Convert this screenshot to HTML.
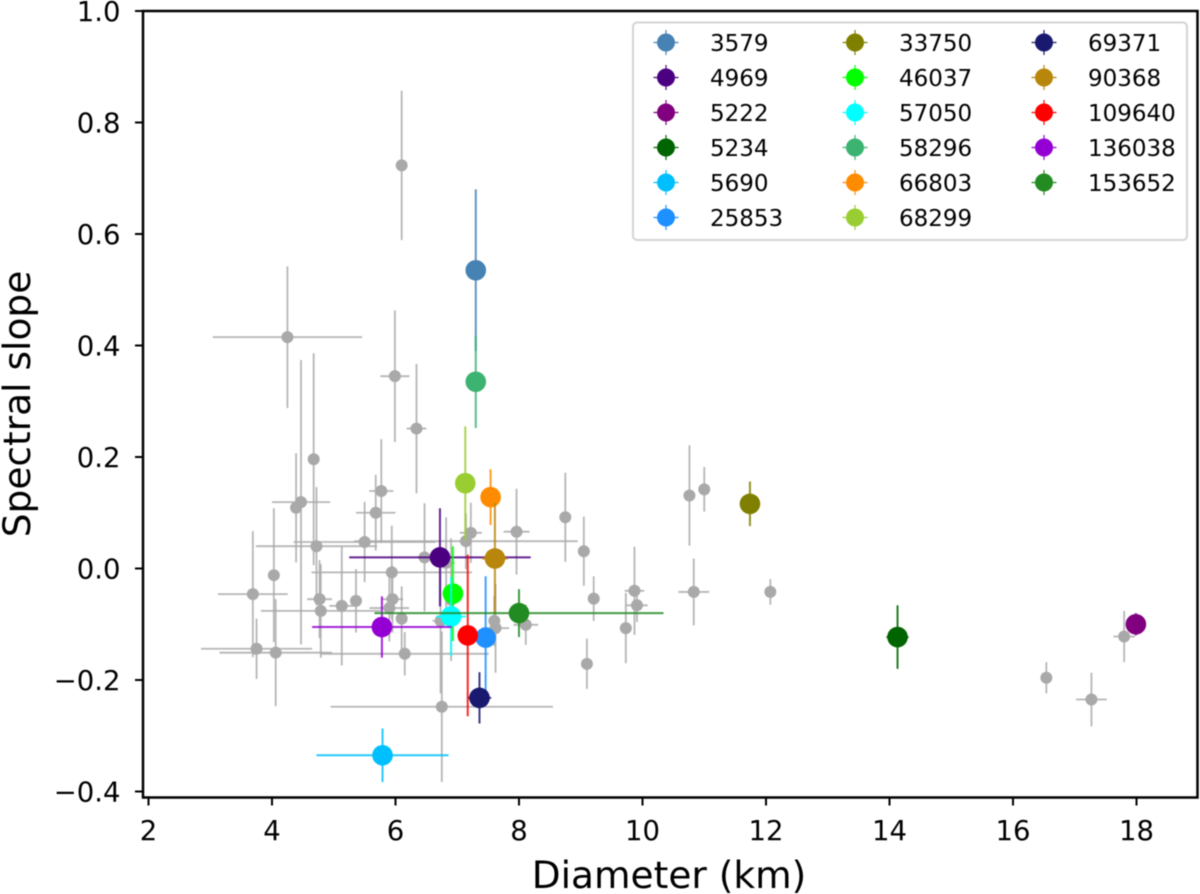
<!DOCTYPE html>
<html lang="en">
<head>
<meta charset="utf-8">
<title>Spectral slope vs diameter</title>
<style>
html,body{margin:0;padding:0;background:#fff;}
svg{display:block;filter:blur(0.4px);}
text{font-family:"DejaVu Sans","Liberation Sans",sans-serif;fill:#000;}
</style>
</head>
<body>
<svg id="chart" xmlns="http://www.w3.org/2000/svg" width="1200" height="894" viewBox="0 0 1200 894">
<rect x="143" y="11" width="1054.5" height="786.5" fill="#fff"/>
<g id="gray-layer"></g>
<g id="color-layer"></g>
<rect x="143" y="11" width="1054.5" height="786.5" fill="none" stroke="#000" stroke-width="2.5"/>
<g id="ticks"></g>
<text x="669" y="888" font-size="37.5" text-anchor="middle">Diameter (km)</text>
<text transform="translate(30,404) rotate(-90)" font-size="37.5" text-anchor="middle">Spectral slope</text>
<g id="legend">
<rect x="633" y="22.5" width="554" height="217.5" rx="4" ry="4" fill="#fff" fill-opacity="0.9" stroke="#d4d4d4" stroke-width="2"/>
</g>
</svg>
<script>
const xTickValues = [2, 4, 6, 8, 10, 12, 14, 16, 18];
const yTickValues = [-0.4, -0.2, 0.0, 0.2, 0.4, 0.6, 0.8, 1.0];
const yTickLabels = ["\u22120.4", "\u22120.2", "0.0", "0.2", "0.4", "0.6", "0.8", "1.0"];

const grayDiameter = [6.1, 4.25, 5.99, 6.34, 4.675, 4.47, 4.39, 5.77, 5.68, 4.72, 5.5, 4.03, 3.69, 5.94, 6.47, 4.77, 4.79, 5.13, 5.36, 5.95, 5.9, 6.1, 6.73, 3.75, 4.06, 6.15, 6.75, 7.22, 7.14, 7.96, 8.75, 9.05, 9.21, 9.87, 9.91, 9.73, 9.1, 10.76, 10.83, 11.0, 12.07, 16.54, 17.27, 17.8, 7.6, 7.62, 8.11, 6.82, 6.9];
const graySlope = [0.723, 0.415, 0.345, 0.251, 0.196, 0.119, 0.109, 0.139, 0.1, 0.04, 0.0475, -0.012, -0.046, -0.007, 0.02, -0.055, -0.076, -0.067, -0.058, -0.055, -0.071, -0.09, -0.094, -0.144, -0.151, -0.153, -0.248, 0.064, 0.049, 0.066, 0.092, 0.031, -0.054, -0.04, -0.066, -0.107, -0.171, 0.131, -0.042, 0.142, -0.042, -0.196, -0.235, -0.122, -0.094, -0.107, -0.101, 0.01, -0.056];
const grayDiameterErr = [0.03, 1.21, 0.235, 0.16, 0.03, 0.47, 0.05, 0.195, 0.32, 0.98, 1.15, 0.03, 0.565, 1.3, 0.12, 0.2, 0.97, 0.2, 0.03, 0.175, 0.32, 0.03, 0.13, 0.9, 0.91, 1.36, 1.8, 0.18, 1.81, 0.21, 0.03, 0.03, 0.03, 0.157, 0.175, 0.03, 0.03, 0.03, 0.25, 0.03, 0.03, 0.03, 0.25, 0.175, 0.03, 0.22, 0.2, 0.14, 0.03];
const graySlopeErr = [0.134, 0.127, 0.118, 0.116, 0.19, 0.255, 0.098, 0.093, 0.068, 0.106, 0.072, 0.12, 0.113, 0.084, 0.097, 0.07, 0.084, 0.107, 0.057, 0.06, 0.06, 0.058, 0.13, 0.054, 0.096, 0.039, 0.135, 0.054, 0.05, 0.077, 0.08, 0.062, 0.04, 0.079, 0.03, 0.063, 0.045, 0.09, 0.06, 0.04, 0.023, 0.028, 0.048, 0.046, 0.045, 0.08, 0.036, 0.082, 0.11];

const asteroidIds = ["3579", "4969", "5222", "5234", "5690", "25853", "33750", "46037", "57050", "58296", "66803", "68299", "69371", "90368", "109640", "136038", "153652"];
const asteroidColors = ["#4682b4", "#4b0082", "#800080", "#006400", "#00bfff", "#1e90ff", "#808000", "#00ff00", "#00ffff", "#3cb371", "#ff8c00", "#9acd32", "#191970", "#b8860b", "#ff0000", "#9400d3", "#228b22"];
const asteroidDiameter = [7.3, 6.72, 17.99, 14.13, 5.79, 7.46, 11.74, 6.93, 6.9, 7.3, 7.54, 7.13, 7.36, 7.61, 7.17, 5.78, 8.0];
const asteroidSlope = [0.535, 0.02, -0.1, -0.123, -0.335, -0.124, 0.116, -0.045, -0.086, 0.335, 0.128, 0.153, -0.232, 0.018, -0.12, -0.105, -0.08];
const asteroidDiameterErr = [0.03, 1.47, 0.05, 0.18, 1.07, 0.05, 0.1, 0.05, 0.24, 0.03, 0.05, 0.05, 0.19, 0.21, 0.05, 1.13, 2.34];
const asteroidSlopeErr = [0.145, 0.088, 0.02, 0.057, 0.048, 0.11, 0.04, 0.085, 0.071, 0.083, 0.05, 0.102, 0.046, 0.1, 0.145, 0.055, 0.043];

const SVG_NS = "http://www.w3.org/2000/svg";
function xScale(v) { return 148.5 + (v - 2) * 61.75; }
function yScale(v) { return 568.5 - v * 557.5; }
function create(tag, attrs, parent) {
  const el = document.createElementNS(SVG_NS, tag);
  for (const k in attrs) el.setAttribute(k, attrs[k]);
  parent.appendChild(el);
  return el;
}

const grayLayer = document.getElementById("gray-layer");
grayDiameter.forEach(function (d, i) {
  const g = create("g", {}, grayLayer);
  
  
  const px = xScale(d), py = yScale(graySlope[i]);
  create("line", { x1: xScale(d - grayDiameterErr[i]), x2: xScale(d + grayDiameterErr[i]), y1: py, y2: py, stroke: "#a9a9a9", "stroke-opacity": 0.85, "stroke-width": 1.8 }, g);
  create("line", { x1: px, x2: px, y1: yScale(graySlope[i] + graySlopeErr[i]), y2: yScale(graySlope[i] - graySlopeErr[i]), stroke: "#a9a9a9", "stroke-opacity": 0.85, "stroke-width": 1.8 }, g);
  create("circle", { cx: px, cy: py, r: 6, fill: "#a9a9a9" }, g);
});

const colorLayer = document.getElementById("color-layer");
asteroidIds.forEach(function (id, i) {
  const g = create("g", {}, colorLayer);
  
  
  const d = asteroidDiameter[i], s = asteroidSlope[i], c = asteroidColors[i];
  const px = xScale(d), py = yScale(s);
  create("line", { x1: xScale(d - asteroidDiameterErr[i]), x2: xScale(d + asteroidDiameterErr[i]), y1: py, y2: py, stroke: c, "stroke-opacity": 0.85, "stroke-width": 2 }, g);
  create("line", { x1: px, x2: px, y1: yScale(s + asteroidSlopeErr[i]), y2: yScale(s - asteroidSlopeErr[i]), stroke: c, "stroke-opacity": 0.85, "stroke-width": 2 }, g);
  create("circle", { cx: px, cy: py, r: 10.3, fill: c }, g);
});

const ticks = document.getElementById("ticks");
xTickValues.forEach(function (v) {
  const tick = create("line", { x1: xScale(v), x2: xScale(v), y1: 797.5, y2: 805.5, stroke: "#000", "stroke-width": 2 }, ticks);
  
  
  const label = create("text", { x: xScale(v), y: 840, "font-size": 27.5, "text-anchor": "middle" }, ticks);
  label.textContent = String(v);
  
  
});
yTickValues.forEach(function (v, i) {
  const tick = create("line", { x1: 135, x2: 143, y1: yScale(v), y2: yScale(v), stroke: "#000", "stroke-width": 2 }, ticks);
  
  
  const label = create("text", { x: 120.5, y: yScale(v) + 10, "font-size": 27.5, "text-anchor": "end" }, ticks);
  label.textContent = yTickLabels[i];
  
  
});

const legend = document.getElementById("legend");
asteroidIds.forEach(function (id, i) {
  const col = Math.floor(i / 6), row = i % 6;
  const hx = 666 + col * 189, hy = 42.5 + row * 35, c = asteroidColors[i];
  const g = create("g", {}, legend);
  
  
  create("line", { x1: hx - 12.5, x2: hx + 12.5, y1: hy, y2: hy, stroke: c, "stroke-width": 1.2 }, g);
  create("line", { x1: hx, x2: hx, y1: hy - 12.5, y2: hy + 12.5, stroke: c, "stroke-width": 1.2 }, g);
  create("circle", { cx: hx, cy: hy, r: 9, fill: c }, g);
  const t = create("text", { x: hx + 44, y: hy + 8.5, "font-size": 23 }, g);
  t.textContent = id;
});
</script>
</body>
</html>
